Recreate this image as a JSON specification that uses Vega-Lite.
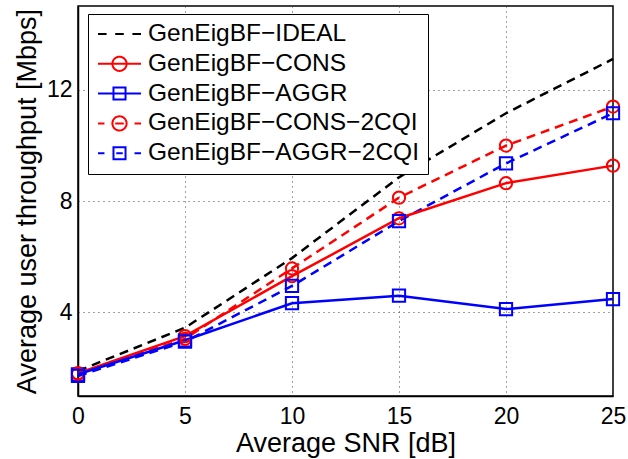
{
  "$schema": "https://vega.github.io/schema/vega-lite/v6.json",
  "width": 535,
  "height": 390,
  "autosize": {"type": "none"},
  "padding": {"left": 78, "top": 6, "right": 15, "bottom": 63},
  "background": "white",
  "config": {
    "view": {"stroke": "black", "strokeWidth": 1.5},
    "font": "Liberation Sans",
    "axis": {"labelFont": "Liberation Sans", "titleFont": "Liberation Sans"},
    "legend": {"labelFont": "Liberation Sans"}
  },
  "data": {
    "values": [
      {"series": "GenEigBF−IDEAL", "snr": 0, "thr": 1.9},
      {"series": "GenEigBF−IDEAL", "snr": 5, "thr": 3.45},
      {"series": "GenEigBF−IDEAL", "snr": 10, "thr": 5.95},
      {"series": "GenEigBF−IDEAL", "snr": 15, "thr": 8.85},
      {"series": "GenEigBF−IDEAL", "snr": 20, "thr": 11.15},
      {"series": "GenEigBF−IDEAL", "snr": 25, "thr": 13.1},
      {"series": "GenEigBF−CONS", "snr": 0, "thr": 1.82},
      {"series": "GenEigBF−CONS", "snr": 5, "thr": 3.15},
      {"series": "GenEigBF−CONS", "snr": 10, "thr": 5.3},
      {"series": "GenEigBF−CONS", "snr": 15, "thr": 7.38},
      {"series": "GenEigBF−CONS", "snr": 20, "thr": 8.64},
      {"series": "GenEigBF−CONS", "snr": 25, "thr": 9.27},
      {"series": "GenEigBF−AGGR", "snr": 0, "thr": 1.78},
      {"series": "GenEigBF−AGGR", "snr": 5, "thr": 3.0},
      {"series": "GenEigBF−AGGR", "snr": 10, "thr": 4.33},
      {"series": "GenEigBF−AGGR", "snr": 15, "thr": 4.6},
      {"series": "GenEigBF−AGGR", "snr": 20, "thr": 4.12},
      {"series": "GenEigBF−AGGR", "snr": 25, "thr": 4.48},
      {"series": "GenEigBF−CONS−2CQI", "snr": 0, "thr": 1.8},
      {"series": "GenEigBF−CONS−2CQI", "snr": 5, "thr": 3.05},
      {"series": "GenEigBF−CONS−2CQI", "snr": 10, "thr": 5.58},
      {"series": "GenEigBF−CONS−2CQI", "snr": 15, "thr": 8.12},
      {"series": "GenEigBF−CONS−2CQI", "snr": 20, "thr": 9.99},
      {"series": "GenEigBF−CONS−2CQI", "snr": 25, "thr": 11.39},
      {"series": "GenEigBF−AGGR−2CQI", "snr": 0, "thr": 1.72},
      {"series": "GenEigBF−AGGR−2CQI", "snr": 5, "thr": 2.95},
      {"series": "GenEigBF−AGGR−2CQI", "snr": 10, "thr": 4.95},
      {"series": "GenEigBF−AGGR−2CQI", "snr": 15, "thr": 7.28},
      {"series": "GenEigBF−AGGR−2CQI", "snr": 20, "thr": 9.35},
      {"series": "GenEigBF−AGGR−2CQI", "snr": 25, "thr": 11.15}
    ]
  },
  "encoding": {
    "x": {
      "field": "snr",
      "type": "quantitative",
      "scale": {"domain": [0, 25], "nice": false},
      "axis": {
        "title": "Average SNR [dB]",
        "values": [0, 5, 10, 15, 20, 25],
        "labelFlush": false,
        "labelFont": "Liberation Sans",
        "labelFontSize": 23,
        "labelColor": "black",
        "labelPadding": 9,
        "titleFont": "Liberation Sans",
        "titleFontSize": 27,
        "titleFontWeight": "normal",
        "titleColor": "black",
        "titlePadding": 2,
        "ticks": false,
        "grid": true,
        "gridDash": [1, 4],
        "gridColor": "#444444",
        "gridWidth": 1,
        "domainColor": "black",
        "domainWidth": 1.5
      }
    },
    "y": {
      "field": "thr",
      "type": "quantitative",
      "scale": {"domain": [1, 15], "nice": false, "zero": false},
      "axis": {
        "title": "Average user throughput [Mbps]",
        "values": [4, 8, 12],
        "labelFlush": false,
        "labelFont": "Liberation Sans",
        "labelFontSize": 23,
        "labelColor": "black",
        "labelPadding": 6,
        "titleFont": "Liberation Sans",
        "titleFontSize": 27,
        "titleFontWeight": "normal",
        "titleColor": "black",
        "titlePadding": 5,
        "ticks": false,
        "grid": true,
        "gridDash": [1, 4],
        "gridColor": "#444444",
        "gridWidth": 1,
        "domainColor": "black",
        "domainWidth": 1.5
      }
    },
    "color": {
      "field": "series",
      "type": "nominal",
      "sort": null,
      "scale": {
        "domain": ["GenEigBF−IDEAL", "GenEigBF−CONS", "GenEigBF−AGGR", "GenEigBF−CONS−2CQI", "GenEigBF−AGGR−2CQI"],
        "range": ["#000000", "#ff0000", "#0000ff", "#ff0000", "#0000ff"]
      },
      "legend": {
        "title": null,
        "orient": "none",
        "legendX": 10,
        "legendY": 8,
        "strokeColor": "black",
        "fillColor": "white",
        "padding": 9,
        "cornerRadius": 0,
        "labelFontSize": 24.5,
        "labelFont": "Liberation Sans",
        "labelColor": "black",
        "labelLimit": 600,
        "labelOffset": 6,
        "symbolSize": 1849,
        "symbolStrokeWidth": 2,
        "symbolDash": [1, 0],
        "clipHeight": 22,
        "rowPadding": 4.8,
        "encode": {
          "symbols": {
            "update": {
              "shape": {"signal": "datum.value === 'GenEigBF−IDEAL' ? 'M-1,0H-0.6M-0.2,0H0.2M0.6,0H1' : datum.value === 'GenEigBF−CONS' ? 'M-1,0H1M-0.33,0A0.33,0.33,0,1,1,0.33,0A0.33,0.33,0,1,1,-0.33,0Z' : datum.value === 'GenEigBF−AGGR' ? 'M-1,0H1M-0.28,-0.28H0.28V0.28H-0.28Z' : datum.value === 'GenEigBF−CONS−2CQI' ? 'M-1,0H-0.7M-0.2,0H0.2M0.7,0H1M-0.33,0A0.33,0.33,0,1,1,0.33,0A0.33,0.33,0,1,1,-0.33,0Z' : 'M-1,0H-0.7M-0.15,0H0.15M0.7,0H1M-0.28,-0.28H0.28V0.28H-0.28Z'"},
              "fill": {"value": "transparent"},
              "strokeWidth": {"value": 2},
              "strokeDash": {"value": [1, 0]},
              "opacity": {"value": 1}
            }
          }
        }
      }
    }
  },
  "layer": [
    {
      "transform": [{"filter": "datum.series === 'GenEigBF−IDEAL' || datum.series === 'GenEigBF−CONS−2CQI' || datum.series === 'GenEigBF−AGGR−2CQI'"}],
      "mark": {"type": "line", "strokeWidth": 2.5, "strokeDash": [9, 6]},
      "encoding": {}
    },
    {
      "transform": [{"filter": "datum.series === 'GenEigBF−CONS' || datum.series === 'GenEigBF−AGGR'"}],
      "mark": {"type": "line", "strokeWidth": 2.5},
      "encoding": {}
    },
    {
      "transform": [{"filter": "datum.series !== 'GenEigBF−IDEAL'"}],
      "mark": {"type": "point", "filled": false, "strokeWidth": 2, "opacity": 1, "size": 150},
      "encoding": {
        "shape": {
          "field": "series",
          "type": "nominal",
          "sort": null,
          "scale": {
            "domain": ["GenEigBF−CONS", "GenEigBF−AGGR", "GenEigBF−CONS−2CQI", "GenEigBF−AGGR−2CQI"],
            "range": ["circle", "square", "circle", "square"]
          },
          "legend": null
        }
      }
    }
  ]
}
